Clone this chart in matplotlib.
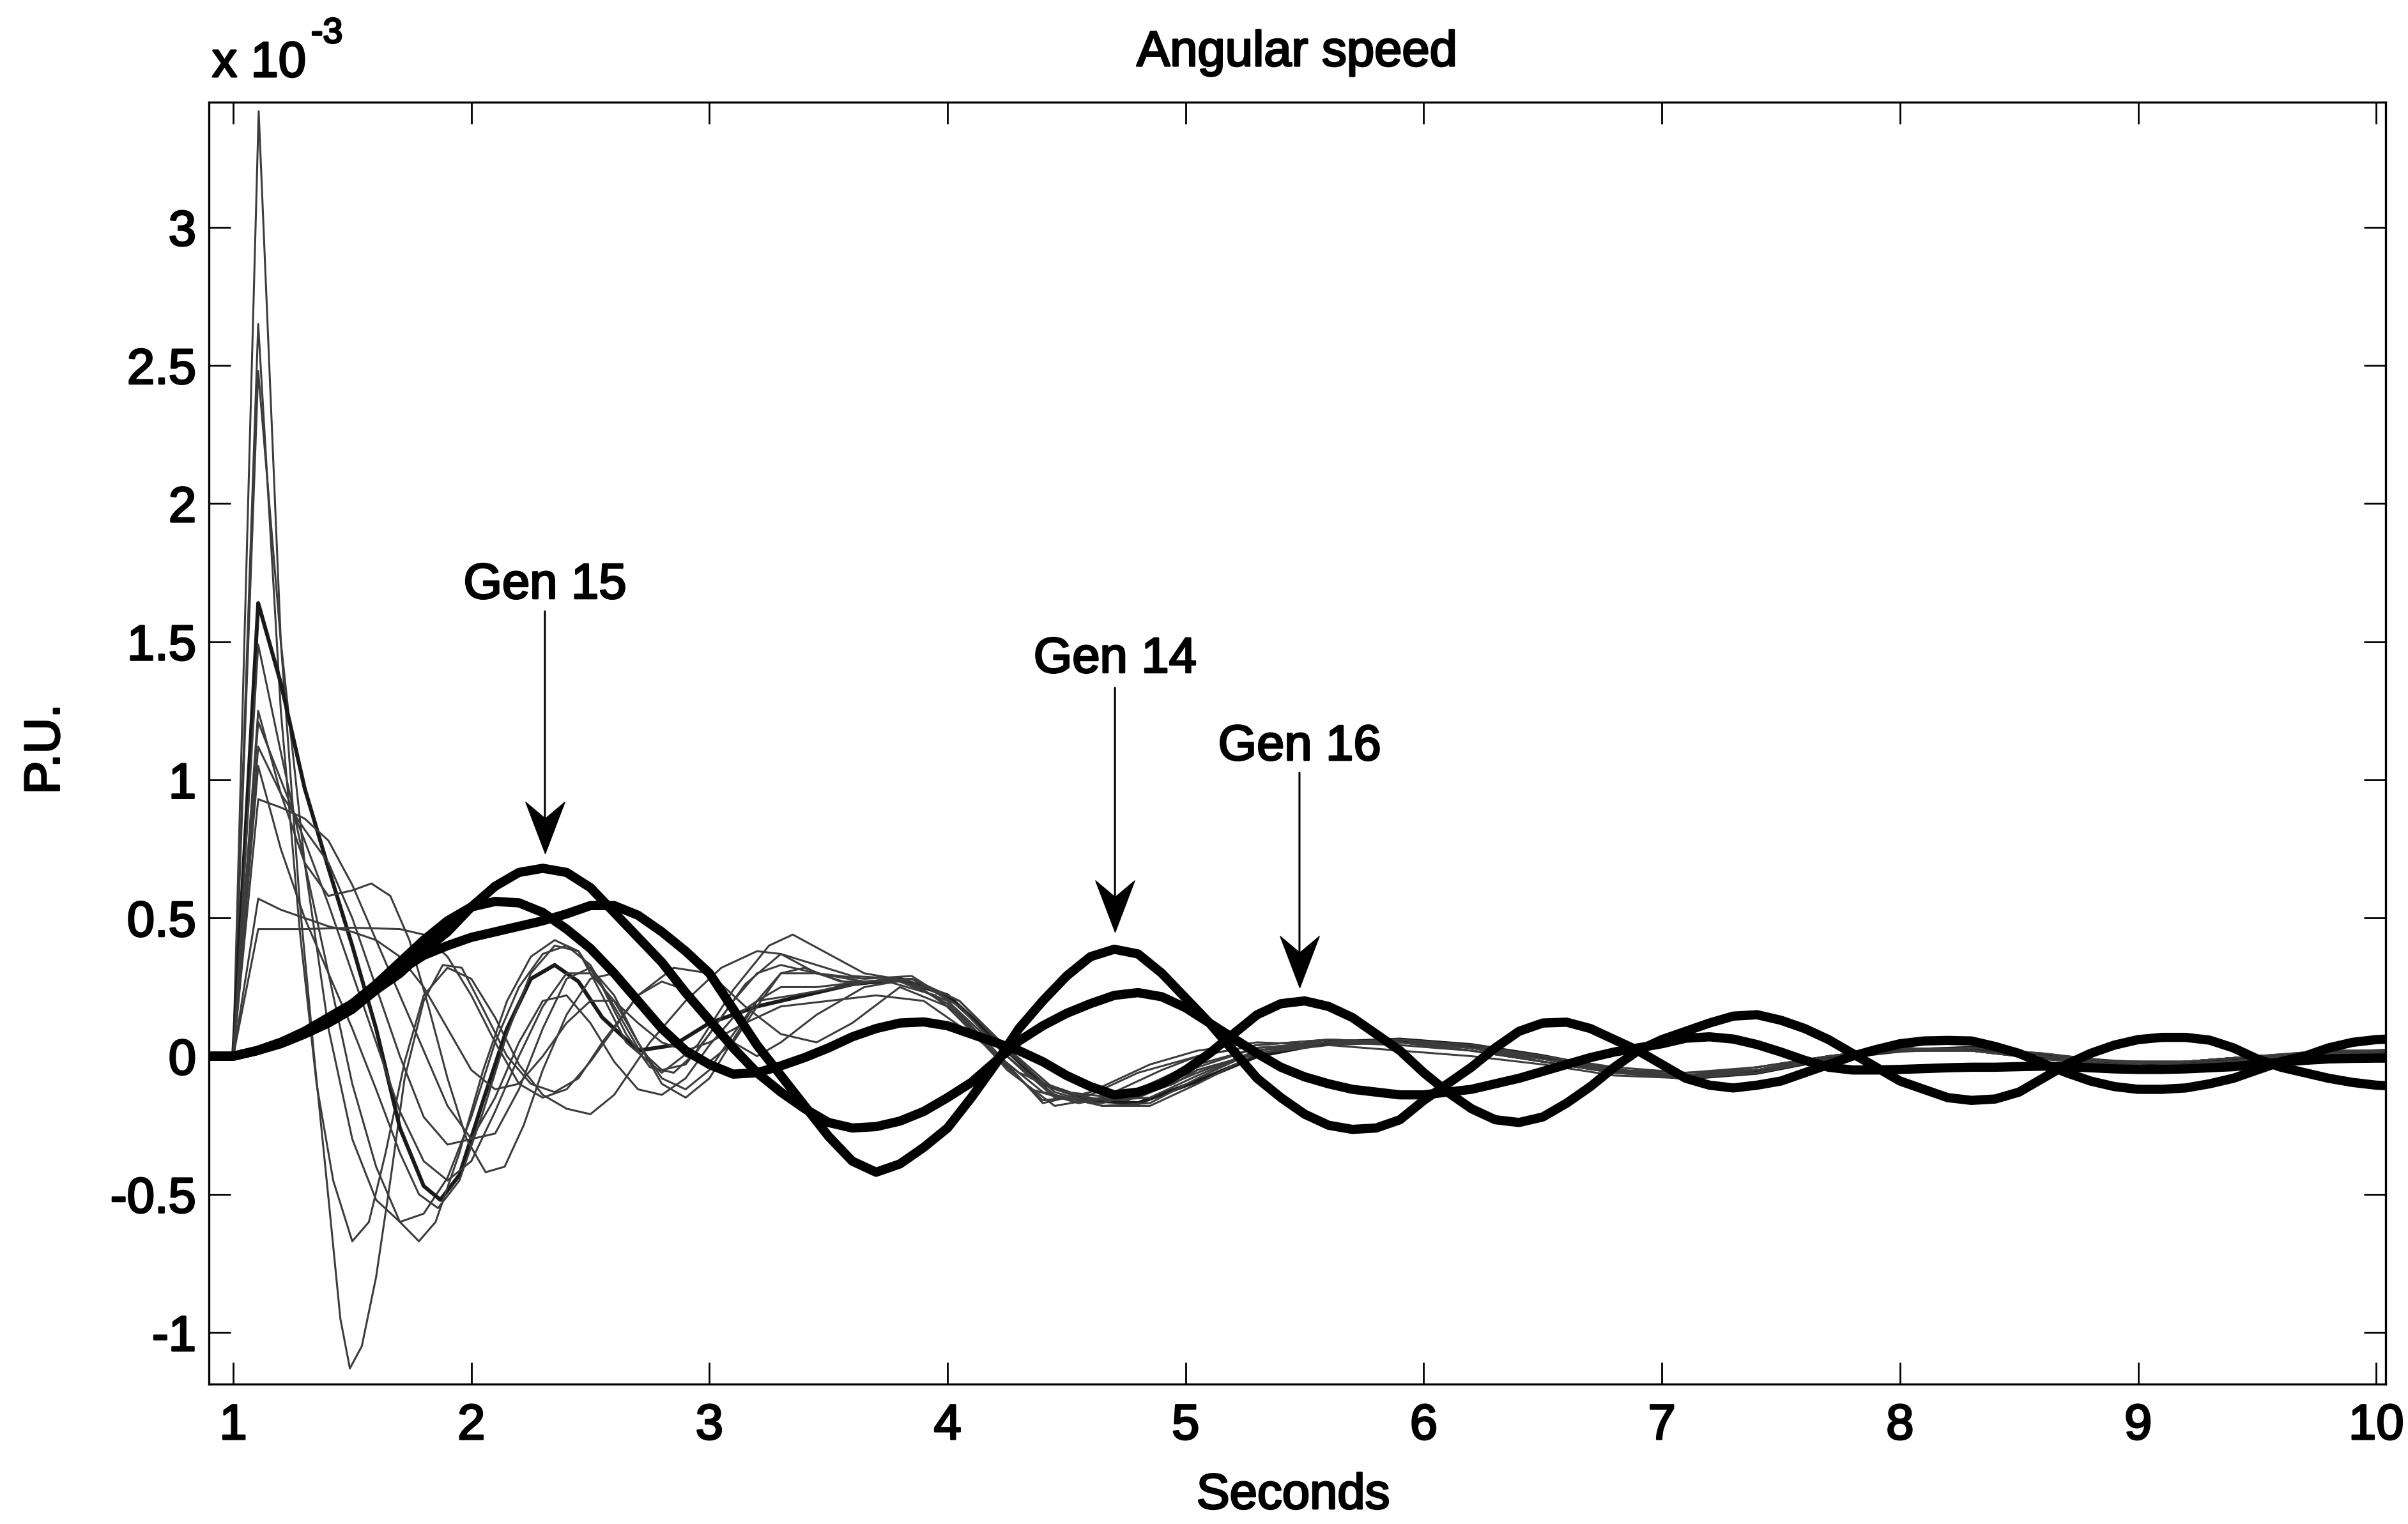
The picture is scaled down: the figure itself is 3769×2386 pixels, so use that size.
import numpy as np
import matplotlib
matplotlib.use("Agg")
import matplotlib.pyplot as plt
import matplotlib.patheffects as pe
from matplotlib.ticker import FuncFormatter

plt.rcParams['font.family'] = ['Liberation Sans', 'DejaVu Sans']

# ---------------- data (angular speed, units of 1e-3 P.U.) ----------------
T_THICK = [0.9, 1.0,
           1.1, 1.2, 1.3, 1.4, 1.5, 1.6, 1.7, 1.8, 1.9, 2.0,
           2.1, 2.2, 2.3, 2.4, 2.5, 2.6, 2.7, 2.8, 2.9, 3.0,
           3.1, 3.2, 3.3, 3.4, 3.5, 3.6, 3.7, 3.8, 3.9, 4.0,
           4.1, 4.2, 4.3, 4.4, 4.5, 4.6, 4.7, 4.8, 4.9, 5.0,
           5.1, 5.2, 5.3, 5.4, 5.5, 5.6, 5.7, 5.8, 5.9, 6.0,
           6.1, 6.2, 6.3, 6.4, 6.5, 6.6, 6.7, 6.8, 6.9, 7.0,
           7.1, 7.2, 7.3, 7.4, 7.5, 7.6, 7.7, 7.8, 7.9, 8.0,
           8.1, 8.2, 8.3, 8.4, 8.5, 8.6, 8.7, 8.8, 8.9, 9.0,
           9.1, 9.2, 9.3, 9.4, 9.5, 9.6, 9.7, 9.8, 9.9, 10.0,
           10.05]

GEN15 = [0, 0,
         0.02, 0.05, 0.085, 0.13, 0.18, 0.24, 0.30, 0.38, 0.45, 0.54,
         0.615, 0.665, 0.68, 0.665, 0.61, 0.52, 0.43, 0.34, 0.23, 0.13,
         0.03, -0.06, -0.13, -0.19, -0.24, -0.26, -0.255, -0.235, -0.20, -0.15,
         -0.095, -0.02, 0.055, 0.11, 0.155, 0.19, 0.22, 0.23, 0.215, 0.175,
         0.12, 0.065, 0.01, -0.04, -0.075, -0.10, -0.12, -0.13, -0.14, -0.14,
         -0.13, -0.12, -0.10, -0.08, -0.055, -0.03, -0.005, 0.015, 0.03, 0.045,
         0.065, 0.07, 0.062, 0.042, 0.015, -0.015, -0.04, -0.05, -0.05, -0.048,
         -0.045, -0.042, -0.04, -0.04, -0.038, -0.036, -0.038, -0.042, -0.046, -0.048,
         -0.048, -0.046, -0.042, -0.038, -0.03, -0.022, -0.015, -0.01, -0.008, -0.007,
         -0.007]

GEN16 = [0, 0,
         0.02, 0.05, 0.09, 0.14, 0.19, 0.26, 0.34, 0.42, 0.49, 0.54,
         0.56, 0.555, 0.52, 0.46, 0.39, 0.30, 0.20, 0.10, 0.02, -0.03,
         -0.065, -0.06, -0.035, -0.005, 0.03, 0.07, 0.10, 0.12, 0.124, 0.11,
         0.08, 0.05, 0.02, -0.02, -0.07, -0.11, -0.14, -0.13, -0.10, -0.05,
         0.01, 0.08, 0.15, 0.19, 0.20, 0.18, 0.14, 0.08, 0.02, -0.06,
         -0.13, -0.19, -0.23, -0.24, -0.22, -0.17, -0.11, -0.04, 0.02, 0.06,
         0.09, 0.12, 0.145, 0.15, 0.13, 0.10, 0.06, 0.01, -0.04, -0.09,
         -0.12, -0.15, -0.16, -0.155, -0.13, -0.08, -0.03, 0.01, 0.04, 0.06,
         0.068, 0.068, 0.058, 0.03, -0.01, -0.04, -0.06, -0.08, -0.095, -0.105,
         -0.107]

GEN14 = [0, 0,
         0.02, 0.045, 0.08, 0.12, 0.17, 0.24, 0.31, 0.365, 0.40, 0.43,
         0.45, 0.47, 0.49, 0.515, 0.545, 0.545, 0.51, 0.45, 0.38, 0.30,
         0.17, 0.04, -0.07, -0.18, -0.29, -0.38, -0.42, -0.39, -0.33, -0.26,
         -0.15, -0.03, 0.10, 0.20, 0.29, 0.36, 0.387, 0.37, 0.30, 0.21,
         0.12, 0.02, -0.08, -0.15, -0.21, -0.25, -0.265, -0.26, -0.23, -0.16,
         -0.10, -0.04, 0.03, 0.09, 0.12, 0.123, 0.10, 0.06, 0.02, -0.03,
         -0.08, -0.105, -0.115, -0.105, -0.09, -0.06, -0.03, 0.0, 0.024, 0.045,
         0.055, 0.057, 0.055, 0.035, 0.01, -0.026, -0.06, -0.09, -0.11, -0.12,
         -0.12, -0.115, -0.10, -0.08, -0.05, -0.02, 0.0, 0.03, 0.05, 0.06,
         0.062]

# other generators (thin traces): (time, value) pairs up to ~5 s, then shared tail times
TAIL_T = [5.05, 5.3, 5.6, 5.9, 6.2, 6.5, 6.8, 7.1, 7.4, 7.7, 8.0, 8.3, 8.6, 8.9, 9.2, 9.5, 9.8, 10.05]

G01 = [(0.9, 0), (1.0, 0), (1.107, 3.42), (1.2, 1.5), (1.28, 0.55), (1.34, 0.0), (1.41, -0.6), (1.45, -0.95),
       (1.49, -1.13), (1.54, -1.05), (1.6, -0.8), (1.66, -0.45), (1.72, -0.08), (1.8, 0.2), (1.88, 0.33),
       (1.96, 0.32), (2.05, 0.17), (2.15, 0.0), (2.25, -0.1), (2.35, -0.13), (2.45, -0.08), (2.55, 0.05),
       (2.7, 0.22), (2.85, 0.32), (3.0, 0.3), (3.15, 0.18), (3.3, 0.08), (3.45, 0.05), (3.6, 0.12), (3.8, 0.25),
       (4.0, 0.18), (4.2, 0.0), (4.4, -0.16), (4.6, -0.14), (4.8, -0.06)]
G01_TAIL = [0.0, 0.04, 0.06, 0.05, 0.02, -0.02, -0.06, -0.07, -0.04, 0.0, 0.03, 0.02, -0.01, -0.03, -0.02, 0.0, 0.01, 0.02]

G02 = [(0.9, 0), (1.0, 0), (1.105, 2.65), (1.2, 1.25), (1.28, 0.45), (1.35, -0.1), (1.42, -0.45), (1.5, -0.67),
       (1.57, -0.6), (1.64, -0.35), (1.72, -0.02), (1.8, 0.22), (1.9, 0.32), (2.0, 0.28), (2.1, 0.14), (2.2, -0.03),
       (2.3, -0.14), (2.4, -0.19), (2.5, -0.21), (2.6, -0.14), (2.75, 0.05), (2.9, 0.2), (3.05, 0.32), (3.2, 0.38),
       (3.3, 0.37), (3.45, 0.3), (3.6, 0.26), (3.8, 0.27), (4.0, 0.2), (4.2, 0.02), (4.4, -0.17), (4.6, -0.13),
       (4.85, -0.03)]
G02_TAIL = [0.02, 0.05, 0.04, 0.02, 0.0, -0.03, -0.07, -0.08, -0.05, -0.01, 0.02, 0.03, 0.0, -0.02, -0.03, -0.01, 0.01, 0.02]

G03 = [(0.9, 0), (1.0, 0), (1.105, 2.48), (1.2, 1.5), (1.3, 0.7), (1.4, 0.1), (1.5, -0.3), (1.6, -0.52), (1.7, -0.6),
       (1.8, -0.57), (1.9, -0.44), (2.0, -0.22), (2.1, 0.05), (2.2, 0.25), (2.3, 0.37), (2.4, 0.4), (2.5, 0.33),
       (2.6, 0.18), (2.7, 0.03), (2.8, -0.05), (2.9, -0.03), (3.0, 0.08), (3.15, 0.26), (3.3, 0.37), (3.45, 0.33),
       (3.6, 0.29), (3.8, 0.28), (4.0, 0.19), (4.2, 0.01), (4.4, -0.13), (4.6, -0.17), (4.8, -0.15)]
G03_TAIL = [-0.06, 0.02, 0.05, 0.05, 0.03, -0.01, -0.05, -0.07, -0.05, -0.01, 0.02, 0.02, 0.0, -0.02, -0.02, 0.0, 0.01, 0.01]

G04 = [(0.9, 0), (1.0, 0), (1.105, 1.64), (1.2, 1.35), (1.3, 0.97), (1.4, 0.68), (1.5, 0.4), (1.6, 0.1), (1.7, -0.26),
       (1.8, -0.47), (1.87, -0.52), (1.95, -0.43), (2.05, -0.16), (2.15, 0.1), (2.25, 0.28), (2.35, 0.33), (2.45, 0.27),
       (2.55, 0.14), (2.7, 0.02), (2.85, 0.04), (3.0, 0.12), (3.2, 0.18), (3.4, 0.22), (3.6, 0.26), (3.8, 0.28),
       (4.0, 0.22), (4.2, 0.06), (4.4, -0.1), (4.6, -0.16), (4.8, -0.17)]
G04_TAIL = [-0.09, 0.0, 0.05, 0.06, 0.04, 0.0, -0.05, -0.08, -0.06, -0.01, 0.02, 0.03, 0.0, -0.02, -0.03, -0.01, 0.01, 0.02]

G05 = [(0.9, 0), (1.0, 0), (1.105, 1.49), (1.2, 1.1), (1.3, 0.7), (1.4, 0.3), (1.5, -0.1), (1.6, -0.4), (1.7, -0.6),
       (1.78, -0.67), (1.85, -0.6), (1.95, -0.35), (2.05, -0.05), (2.15, 0.2), (2.25, 0.36), (2.35, 0.42), (2.45, 0.38),
       (2.55, 0.22), (2.65, 0.05), (2.8, -0.06), (2.95, 0.04), (3.1, 0.24), (3.25, 0.4), (3.35, 0.44), (3.5, 0.37),
       (3.65, 0.3), (3.85, 0.27), (4.05, 0.15), (4.25, -0.05), (4.45, -0.18), (4.65, -0.15), (4.9, -0.05)]
G05_TAIL = [0.0, 0.04, 0.06, 0.05, 0.02, -0.02, -0.06, -0.08, -0.05, 0.0, 0.03, 0.02, -0.01, -0.03, -0.02, 0.0, 0.02, 0.02]

G06 = [(0.9, 0), (1.0, 0), (1.105, 1.25), (1.2, 0.95), (1.3, 0.7), (1.4, 0.58), (1.5, 0.6), (1.58, 0.625), (1.66, 0.58),
       (1.74, 0.42), (1.82, 0.18), (1.9, -0.08), (1.98, -0.3), (2.06, -0.42), (2.14, -0.4), (2.22, -0.25), (2.3, -0.05),
       (2.4, 0.15), (2.5, 0.28), (2.6, 0.3), (2.7, 0.22), (2.8, 0.1), (2.9, 0.0), (3.0, -0.02), (3.1, 0.05), (3.2, 0.18),
       (3.3, 0.3), (3.4, 0.32), (3.55, 0.27), (3.75, 0.27), (3.95, 0.22), (4.15, 0.05), (4.35, -0.12), (4.55, -0.17),
       (4.75, -0.14), (4.95, -0.06)]
G06_TAIL = [-0.03, 0.03, 0.05, 0.04, 0.02, -0.01, -0.05, -0.06, -0.04, 0.0, 0.02, 0.02, -0.01, -0.02, -0.02, 0.0, 0.01, 0.01]

G07 = [(0.9, 0), (1.0, 0), (1.105, 1.21), (1.2, 1.0), (1.3, 0.78), (1.4, 0.55), (1.5, 0.3), (1.6, 0.05), (1.7, -0.2),
       (1.8, -0.38), (1.9, -0.45), (2.0, -0.38), (2.1, -0.2), (2.2, 0.0), (2.3, 0.18), (2.4, 0.3), (2.5, 0.3), (2.6, 0.2),
       (2.7, 0.05), (2.8, -0.08), (2.9, -0.12), (3.0, -0.05), (3.1, 0.08), (3.2, 0.2), (3.3, 0.25), (3.45, 0.25),
       (3.65, 0.27), (3.85, 0.28), (4.05, 0.18), (4.25, 0.0), (4.45, -0.14), (4.65, -0.18), (4.85, -0.17)]
G07_TAIL = [-0.08, 0.02, 0.05, 0.06, 0.03, -0.01, -0.06, -0.08, -0.06, -0.01, 0.02, 0.03, 0.01, -0.02, -0.03, -0.01, 0.01, 0.02]

G08 = [(0.9, 0), (1.0, 0), (1.105, 1.12), (1.2, 0.95), (1.3, 0.82), (1.4, 0.7), (1.5, 0.5), (1.6, 0.25), (1.7, 0.0),
       (1.8, -0.22), (1.9, -0.32), (2.0, -0.3), (2.1, -0.15), (2.2, 0.05), (2.3, 0.2), (2.4, 0.22), (2.5, 0.12),
       (2.6, -0.02), (2.7, -0.12), (2.8, -0.14), (2.9, -0.08), (3.0, 0.04), (3.1, 0.14), (3.2, 0.2), (3.35, 0.22),
       (3.55, 0.25), (3.75, 0.28), (3.95, 0.24), (4.15, 0.08), (4.35, -0.08), (4.55, -0.15), (4.75, -0.16), (4.95, -0.1)]
G08_TAIL = [-0.05, 0.01, 0.05, 0.05, 0.03, 0.0, -0.05, -0.07, -0.05, -0.01, 0.02, 0.02, 0.0, -0.02, -0.02, 0.0, 0.01, 0.01]

G09 = [(0.9, 0), (1.0, 0), (1.105, 0.93), (1.2, 0.9), (1.3, 0.86), (1.4, 0.78), (1.5, 0.62), (1.6, 0.42), (1.7, 0.22),
       (1.8, 0.02), (1.9, -0.18), (2.0, -0.3), (2.1, -0.28), (2.2, -0.12), (2.3, 0.1), (2.4, 0.28), (2.5, 0.32),
       (2.6, 0.22), (2.7, 0.05), (2.8, -0.1), (2.9, -0.15), (3.0, -0.08), (3.1, 0.06), (3.2, 0.2), (3.3, 0.3),
       (3.45, 0.3), (3.65, 0.27), (3.85, 0.28), (4.05, 0.2), (4.25, 0.03), (4.45, -0.12), (4.65, -0.16), (4.85, -0.15)]
G09_TAIL = [-0.07, 0.02, 0.06, 0.05, 0.03, -0.02, -0.06, -0.07, -0.04, 0.0, 0.03, 0.02, -0.01, -0.03, -0.02, 0.0, 0.02, 0.02]

G10 = [(0.9, 0), (1.0, 0), (1.105, 0.57), (1.2, 0.53), (1.3, 0.5), (1.4, 0.47), (1.5, 0.45), (1.6, 0.42), (1.7, 0.36),
       (1.8, 0.25), (1.9, 0.1), (2.0, -0.05), (2.1, -0.12), (2.2, -0.1), (2.3, 0.0), (2.4, 0.12), (2.5, 0.2), (2.6, 0.2),
       (2.7, 0.12), (2.8, 0.05), (2.9, 0.02), (3.0, 0.05), (3.15, 0.12), (3.3, 0.18), (3.5, 0.2), (3.7, 0.22),
       (3.9, 0.2), (4.1, 0.08), (4.3, -0.06), (4.5, -0.13), (4.7, -0.15), (4.9, -0.1)]
G10_TAIL = [-0.05, 0.01, 0.04, 0.05, 0.03, 0.0, -0.04, -0.06, -0.05, -0.01, 0.02, 0.02, 0.0, -0.02, -0.02, 0.0, 0.01, 0.01]

G11 = [(0.9, 0), (1.0, 0), (1.105, 0.46), (1.3, 0.46), (1.5, 0.465), (1.7, 0.46), (1.8, 0.44), (1.9, 0.36), (2.0, 0.22),
       (2.1, 0.05), (2.2, -0.1), (2.3, -0.15), (2.4, -0.12), (2.5, -0.02), (2.6, 0.1), (2.7, 0.22), (2.8, 0.27),
       (2.9, 0.24), (3.0, 0.15), (3.1, 0.05), (3.2, 0.0), (3.3, 0.05), (3.45, 0.15), (3.65, 0.25), (3.85, 0.28),
       (4.05, 0.2), (4.25, 0.02), (4.45, -0.13), (4.65, -0.18), (4.85, -0.18)]
G11_TAIL = [-0.1, 0.01, 0.05, 0.06, 0.04, 0.0, -0.05, -0.08, -0.06, -0.01, 0.02, 0.03, 0.01, -0.02, -0.03, -0.01, 0.01, 0.02]

G12 = [(0.9, 0), (1.0, 0), (1.105, 1.05), (1.2, 0.75), (1.3, 0.5), (1.4, 0.3), (1.5, 0.1), (1.6, -0.12), (1.7, -0.35),
       (1.78, -0.5), (1.86, -0.55), (1.95, -0.45), (2.05, -0.2), (2.15, 0.08), (2.25, 0.3), (2.35, 0.4), (2.45, 0.38),
       (2.55, 0.25), (2.65, 0.08), (2.75, -0.04), (2.85, -0.06), (2.95, 0.02), (3.1, 0.2), (3.2, 0.3), (3.3, 0.33),
       (3.45, 0.3), (3.65, 0.28), (3.85, 0.29), (4.05, 0.18), (4.25, 0.0), (4.45, -0.15), (4.65, -0.17), (4.85, -0.12)]
G12_TAIL = [-0.04, 0.03, 0.05, 0.05, 0.02, -0.02, -0.06, -0.07, -0.05, 0.0, 0.03, 0.02, -0.01, -0.03, -0.02, 0.0, 0.01, 0.02]

THIN = [(G01, G01_TAIL), (G02, G02_TAIL), (G03, G03_TAIL), (G04, G04_TAIL), (G05, G05_TAIL), (G06, G06_TAIL),
        (G07, G07_TAIL), (G08, G08_TAIL), (G09, G09_TAIL), (G10, G10_TAIL), (G11, G11_TAIL), (G12, G12_TAIL)]

X_TICKS = [1, 2, 3, 4, 5, 6, 7, 8, 9, 10]
Y_TICKS = [-1, -0.5, 0, 0.5, 1, 1.5, 2, 2.5, 3]

# annotations: label, label anchor (t, v), arrow start v, arrow tip v
LABELS = [("Gen 15", 2.309, 1.657, 1.61, 0.735),
          ("Gen 14", 4.703, 1.389, 1.333, 0.45),
          ("Gen 16", 5.478, 1.072, 1.026, 0.249)]

# ---------------- figure ----------------
HEAVY = [pe.withStroke(linewidth=1.1, foreground='black')]

fig = plt.figure(figsize=(18.845, 11.93), dpi=200)
ax = fig.add_axes([0.08676, 0.09178, 0.9040, 0.8412])

for k, (head, tail) in enumerate(THIN):
    t = [p[0] for p in head] + TAIL_T
    v = [p[1] for p in head] + tail
    if len(tail) != len(TAIL_T):
        raise ValueError("tail length mismatch %d" % k)
    if k == 3:
        ax.plot(t, v, color='#1a1a1a', lw=2.2, solid_joinstyle='round')
    else:
        ax.plot(t, v, color='#3c3c3c', lw=1.1, solid_joinstyle='round')

for series in (GEN15, GEN16, GEN14):
    if len(series) != len(T_THICK):
        raise ValueError("thick length mismatch")
    ax.plot(T_THICK, series, color='black', lw=5.2, solid_joinstyle='round', solid_capstyle='butt')

# arrow head marker (notched, pointing down, tip at origin)
head_marker = [(0, 0), (0.38, 1.0), (0, 0.68), (-0.38, 1.0), (0, 0)]
for text, tx, ty, v0, v1 in LABELS:
    ax.text(tx, ty, text, ha='center', va='baseline', fontsize=28, path_effects=HEAVY)
    ax.annotate('', xy=(tx, v1 + 0.1), xytext=(tx, v0),
                arrowprops=dict(arrowstyle='-', lw=1.1, color='black', shrinkA=0, shrinkB=0))
    ax.plot([tx], [v1], linestyle='none', marker=head_marker, markersize=58,
            markerfacecolor='black', markeredgecolor='black', markeredgewidth=0.5)

ax.set_xlim(0.898, 10.04)
ax.set_ylim(-1.187, 3.453)
ax.set_xticks(X_TICKS)
ax.set_yticks(Y_TICKS)
ax.xaxis.set_major_formatter(FuncFormatter(lambda v, p: '%g' % v))
ax.yaxis.set_major_formatter(FuncFormatter(lambda v, p: '%g' % v))
ax.tick_params(direction='in', top=True, right=True, length=12.3, width=1.0, labelsize=28, colors='black')
ax.tick_params(axis='x', pad=10.5)
ax.tick_params(axis='y', pad=7.2)
for lab in ax.get_xticklabels() + ax.get_yticklabels():
    lab.set_path_effects(HEAVY)
for s in ax.spines.values():
    s.set_linewidth(1.2)
    s.set_color('black')

fig.text(0.5386, 0.9568, 'Angular speed', ha='center', va='baseline', fontsize=28, path_effects=HEAVY)
fig.text(0.0881, 0.9497, 'x 10', ha='left', va='baseline', fontsize=28, path_effects=HEAVY)
fig.text(0.1292, 0.9719, '-3', ha='left', va='baseline', fontsize=20, path_effects=HEAVY)
fig.text(0.537, 0.0101, 'Seconds', ha='center', va='baseline', fontsize=28, path_effects=HEAVY)
fig.text(0.0191, 0.5084, 'P.U.', ha='center', va='center', rotation=90, fontsize=28, path_effects=HEAVY)

fig.savefig('out.png', dpi=200, facecolor='white')
